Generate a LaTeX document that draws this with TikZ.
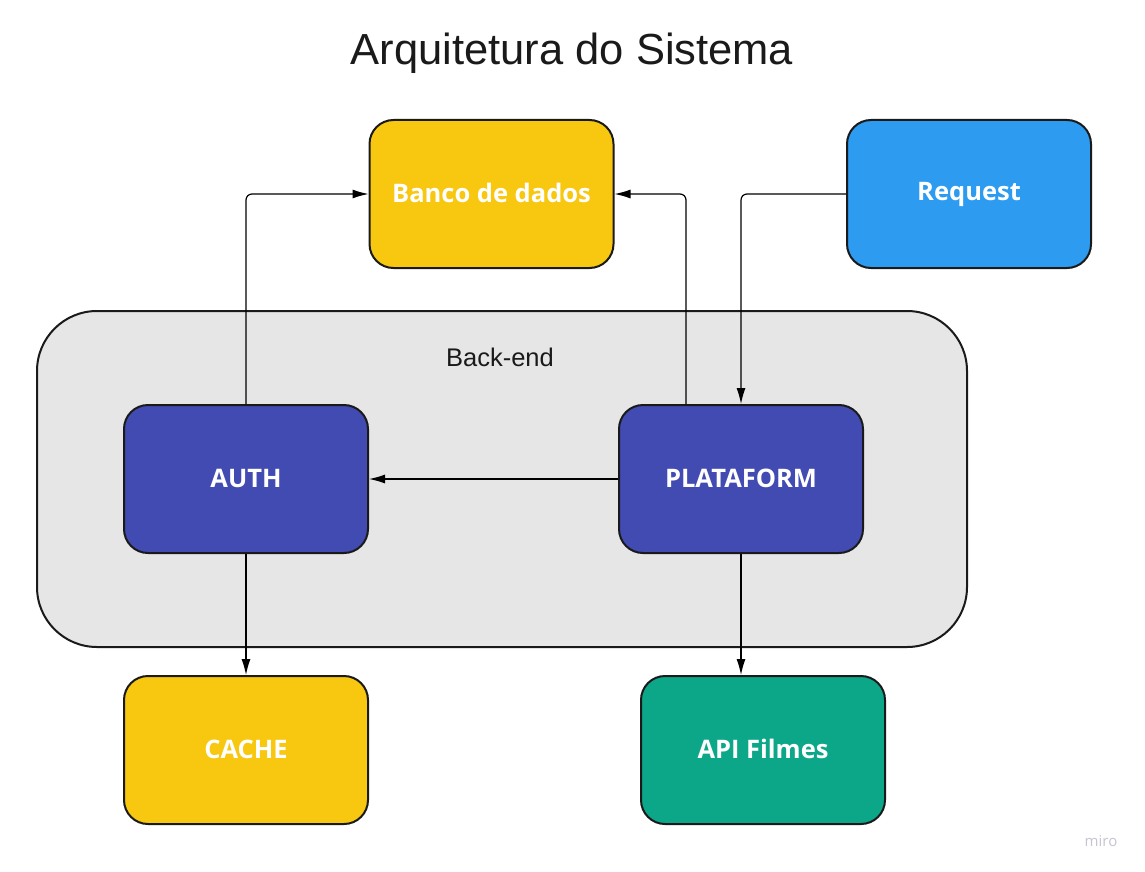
\documentclass[tikz,border=0pt]{standalone}
\usepackage{fontspec}
\setmainfont{Liberation Sans}
\newfontfamily\boxfont{Open Sans}
\usetikzlibrary{arrows.meta}
\definecolor{cyellow}{HTML}{F8C70F}
\definecolor{cblue}{HTML}{2D9BF0}
\definecolor{cindigo}{HTML}{414BB2}
\definecolor{cgreen}{HTML}{0CA789}
\definecolor{cgrey}{HTML}{E6E6E6}
\definecolor{cline}{HTML}{1A1A1A}
\definecolor{cmiro}{HTML}{C4C6D2}
\tikzset{
  blockbox/.style={draw=cline, line width=2pt, rounded corners=24pt, minimum width=244pt, minimum height=148pt, inner sep=0pt, text=white, font=\boxfont\bfseries\fontsize{25.5}{30}\selectfont},
  conn/.style={draw=black, line width=1.2pt, rounded corners=6pt, -{Latex[length=16pt,width=9pt]}},
}
\begin{document}
\begin{tikzpicture}[x=1pt,y=-1pt]
\useasboundingbox (0,0) rectangle (1145,872);
\fill[white] (0,0) rectangle (1145,872);
\node[text=cline] (title) at (572,53) {\fontsize{43.5}{50}\selectfont Arquitetura do Sistema};
\draw[draw=cline, fill=cgrey, line width=2pt, rounded corners=60pt] (37,311) rectangle (967,647);
\node[text=cline] (backend) at (500,357) {\fontsize{25.5}{30}\selectfont Back-end};
\node[blockbox, fill=cyellow] (banco) at (491.5,194) {\raisebox{3pt}{Banco de dados}};
\node[blockbox, fill=cblue] (request) at (969,194) {\raisebox{2pt}{Request}};
\node[blockbox, fill=cindigo] (auth) at (246,479) {\raisebox{2pt}{AUTH}};
\node[blockbox, fill=cindigo] (plat) at (741,479) {\raisebox{2pt}{PLATAFORM}};
\node[blockbox, fill=cyellow] (cache) at (246,750) {\raisebox{2pt}{CACHE}};
\node[blockbox, fill=cgreen] (api) at (763,750) {\raisebox{2pt}{API Filmes}};
\node[text=cmiro, font=\boxfont\fontsize{15}{18}\selectfont] (miro) at (1101,841) {miro};
\draw[conn] (auth.north) |- (banco.west);
\draw[conn] ([xshift=-55pt]plat.north) |- (banco.east);
\draw[conn] (request.west) -| (plat.north);
\draw[conn] (plat.west) -- (auth.east);
\draw[conn] (auth.south) -- (cache.north);
\draw[conn] (plat.south) -- (api.north -| plat.south);
\end{tikzpicture}
\end{document}
